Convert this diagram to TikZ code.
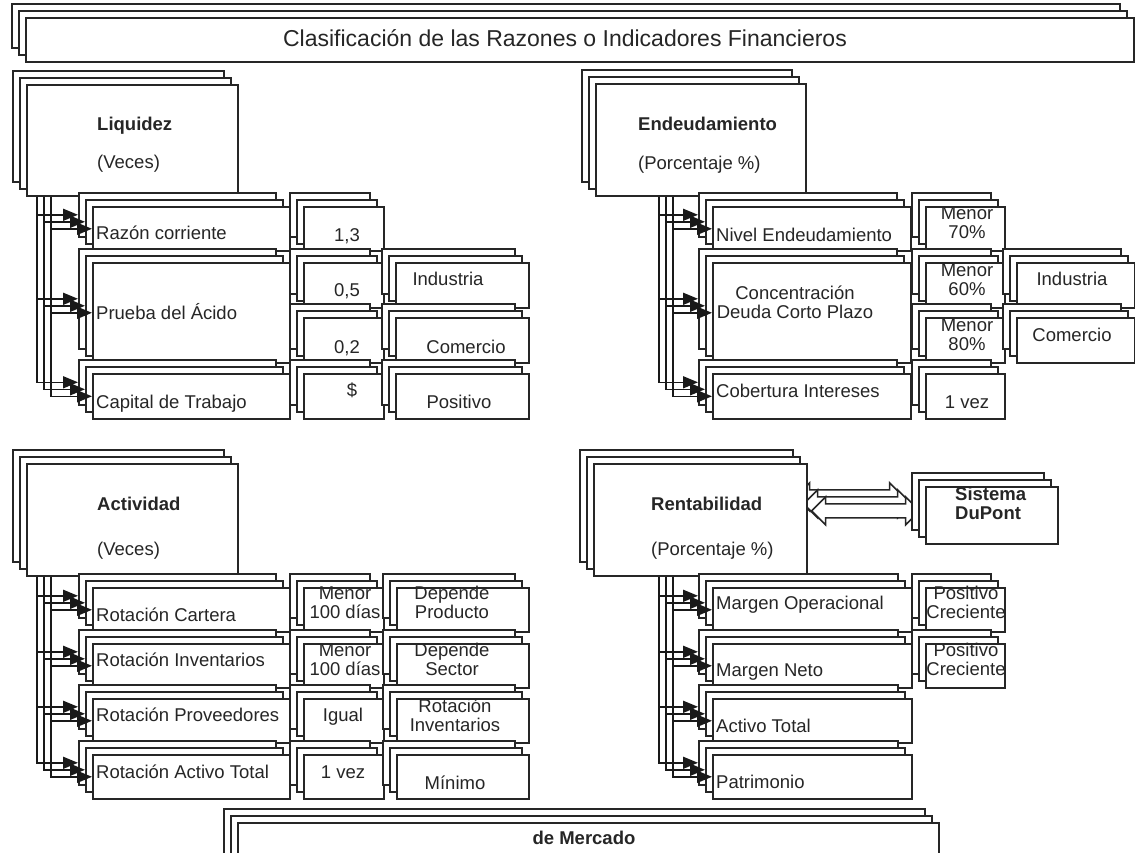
\documentclass[tikz,border=0pt]{standalone}
\usepackage{fontspec}
\setmainfont{Liberation Sans}
\usetikzlibrary{arrows.meta, positioning, calc, shadows, backgrounds}

\tikzset{
  stackbox/.style={draw=black!85, fill=white, line width=1.6pt, inner sep=0pt, anchor=north west,
    general shadow={shadow xshift=-14pt, shadow yshift=14pt, draw=black!85, fill=white, line width=1.6pt},
    general shadow={shadow xshift=-7pt, shadow yshift=7pt, draw=black!85, fill=white, line width=1.6pt}},
  txt/.style={font=\fontsize{18.5}{19.5}\selectfont, text=black!85, inner sep=0pt,
    text height=13pt, text depth=0pt},
  boldtxt/.style={txt, font=\fontsize{18.5}{19.5}\selectfont\bfseries},
  link/.style={draw=black!90, line width=1.6pt, -{Triangle[length=15pt, width=12pt]}},
  stub/.style={draw=black!85, line width=1.6pt},
  hollow/.style={draw=black!85, fill=white, line width=1.6pt},
}
% box: name, x, y (top left of front sheet), width, height
\newcommand{\stk}[5]{\node[stackbox, minimum width=#4pt, minimum height=#5pt] (#1) at (#2,#3) {};}

\begin{document}
\begin{tikzpicture}[x=1pt, y=-1pt]
  \path[use as bounding box] (0,0) rectangle (1135,853);

  % title
  \stk{tit}{25}{17}{1108}{44}
  \node[txt, font=\fontsize{23}{25}\selectfont, text height=16pt] (t-tit) at (565,39)
    {Clasificación de las Razones o Indicadores Financieros};

  % Liquidez
  \stk{liq}{26}{84}{211}{111}
  \node[boldtxt, anchor=west] (t-liq) at (97,124) {Liquidez};
  \node[txt, anchor=west] (t-liqu) at (97,162) {(Veces)};
  \stk{rc}{92}{206}{197}{44}
  \stk{v13}{303}{206}{80}{44}
  \stk{pa}{92}{262}{197}{100}
  \stk{v05}{303}{262}{80}{45}
  \stk{v02}{303}{317}{80}{45}
  \stk{ind1}{395}{262}{133}{45}
  \stk{com1}{395}{317}{133}{45}
  \stk{ct}{92}{373}{197}{45}
  \stk{vs}{303}{373}{80}{45}
  \stk{pos1}{395}{373}{133}{45}
  \node[txt, anchor=west] (t-rc) at (96,233) {Razón corriente};
  \node[txt] (t-v13) at (347,235) {1,3};
  \node[txt, anchor=west] (t-pa) at (96,313) {Prueba del Ácido};
  \node[txt] (t-v05) at (347,290) {0,5};
  \node[txt] (t-v02) at (347,347) {0,2};
  \node[txt] (t-ind1) at (448,279) {Industria};
  \node[txt] (t-com1) at (466,347) {Comercio};
  \node[txt, anchor=west] (t-ct) at (96,402) {Capital de Trabajo};
  \node[txt] (t-vs) at (352,390) {\$};
  \node[txt] (t-pos1) at (459,402) {Positivo};

  % Endeudamiento
  \stk{end}{595}{83}{210}{112}
  \node[boldtxt, anchor=west] (t-end) at (638,124) {Endeudamiento};
  \node[txt, anchor=west] (t-endu) at (638,163) {(Porcentaje \%)};
  \stk{ne}{712}{206}{198}{44}
  \stk{m70}{925}{206}{79}{44}
  \stk{cd}{712}{262}{198}{100}
  \stk{m60}{925}{262}{79}{45}
  \stk{m80}{925}{317}{79}{45}
  \stk{ind2}{1016}{262}{118}{45}
  \stk{com2}{1016}{317}{118}{45}
  \stk{ci}{712}{373}{198}{45}
  \stk{v1a}{925}{373}{79}{45}
  \node[txt, anchor=west] (t-ne) at (716,235) {Nivel Endeudamiento};
  \node[txt, align=center] (t-m70) at (967,232) {Menor\\70\%};
  \node[txt, align=center] (t-cd) at (795,312) {Concentración\\Deuda Corto Plazo};
  \node[txt, align=center] (t-m60) at (967,289) {Menor\\60\%};
  \node[txt, align=center] (t-m80) at (967,344) {Menor\\80\%};
  \node[txt] (t-ind2) at (1072,279) {Industria};
  \node[txt] (t-com2) at (1072,335) {Comercio};
  \node[txt, anchor=west] (t-ci) at (716,391) {Cobertura Intereses};
  \node[txt] (t-v1a) at (967,402) {1 vez};

  % Actividad
  \stk{act}{26}{463}{211}{112}
  \node[boldtxt, anchor=west] (t-act) at (97,504) {Actividad};
  \node[txt, anchor=west] (t-actu) at (97,549) {(Veces)};
  \stk{rca}{92}{587}{197}{44}
  \stk{m100a}{303}{587}{80}{44}
  \stk{dp}{396}{587}{132}{44}
  \stk{ri}{92}{643}{197}{44}
  \stk{m100b}{303}{643}{80}{44}
  \stk{ds}{396}{643}{132}{44}
  \stk{rp}{92}{698}{197}{44}
  \stk{vig}{303}{698}{80}{44}
  \stk{rinv}{396}{698}{132}{44}
  \stk{rat}{92}{754}{197}{44}
  \stk{v1b}{303}{754}{80}{44}
  \stk{mn}{396}{754}{132}{44}
  \node[txt, anchor=west] (t-rca) at (96,615) {Rotación Cartera};
  \node[txt, align=center] (t-m100a) at (345,612) {Menor\\100 días};
  \node[txt, align=center] (t-dp) at (452,612) {Depende\\Producto};
  \node[txt, anchor=west] (t-ri) at (96,660) {Rotación Inventarios};
  \node[txt, align=center] (t-m100b) at (345,669) {Menor\\100 días};
  \node[txt, align=center] (t-ds) at (452,669) {Depende\\Sector};
  \node[txt, anchor=west] (t-rp) at (96,715) {Rotación Proveedores};
  \node[txt] (t-vig) at (343,715) {Igual};
  \node[txt, align=center] (t-rinv) at (455,725) {Rotación\\Inventarios};
  \node[txt, anchor=west] (t-rat) at (96,772) {Rotación Activo Total};
  \node[txt] (t-v1b) at (343,772) {1 vez};
  \node[txt] (t-mn) at (455,783) {Mínimo};

  % Rentabilidad
  \stk{ren}{593}{463}{213}{112}
  \node[boldtxt, anchor=west] (t-ren) at (651,504) {Rentabilidad};
  \node[txt, anchor=west] (t-renu) at (651,549) {(Porcentaje \%)};
  \stk{dup}{925}{486}{132}{57}
  \node[boldtxt, align=left, anchor=west] (t-dup) at (955,513) {Sistema\\DuPont};
  \stk{mo}{712}{587}{199}{44}
  \stk{pc1}{925}{587}{79}{44}
  \stk{mne}{712}{643}{199}{44}
  \stk{pc2}{925}{643}{79}{44}
  \stk{atl}{712}{698}{199}{44}
  \stk{pat}{712}{754}{199}{44}
  \node[txt, anchor=west] (t-mo) at (716,603) {Margen Operacional};
  \node[txt, align=center] (t-pc1) at (966,612) {Positivo\\Creciente};
  \node[txt, anchor=west] (t-mne) at (716,670) {Margen Neto};
  \node[txt, align=center] (t-pc2) at (966,669) {Positivo\\Creciente};
  \node[txt, anchor=west] (t-atl) at (716,726) {Activo Total};
  \node[txt, anchor=west] (t-pat) at (716,782) {Patrimonio};

  % de Mercado
  \stk{mer}{237}{822}{701}{60}
  \node[boldtxt] (t-mer) at (584,838) {de Mercado};

  % connectors, three sheets each
  \coordinate (busL) at (51,0);
  \coordinate (busR) at (673,0);
  \coordinate (dblL) at ($(ren.east)+(4,-9)$);
  \foreach \k in {2,1,0}{
    \foreach \c in {rc,pa,ct}
      \draw[link] ($(liq.south -| busL)+(-7*\k,0)$) |- ($(\c.west)+(-7*\k,-7*\k)$);
    \foreach \c in {ne,cd,ci}
      \draw[link] ($(end.south -| busR)+(-7*\k,0)$) |- ($(\c.west)+(-7*\k,-7*\k)$);
    \foreach \c in {rca,ri,rp,rat}
      \draw[link] ($(act.south -| busL)+(-7*\k,0)$) |- ($(\c.west)+(-7*\k,-7*\k)$);
    \foreach \c in {mo,mne,atl,pat}
      \draw[link] ($(ren.south -| busR)+(-7*\k,0)$) |- ($(\c.west)+(-7*\k,-7*\k)$);
  }
  \begin{scope}[on background layer]
    \foreach \k in {2,1,0}{
      \begin{scope}[transform canvas={shift={(-7*\k,-7*\k)}}]
        \foreach \a/\b in {rc/v13,pa/v05,pa/v02,ct/vs,v05/ind1,v02/com1,vs/pos1,
                           ne/m70,cd/m60,cd/m80,ci/v1a,m60/ind2,m80/com2,
                           rca/m100a,ri/m100b,rp/vig,rat/v1b,m100a/dp,m100b/ds,vig/rinv,v1b/mn,
                           mo/pc1,mne/pc2}
          \draw[stub] (\b.west -| \a.east) -- (\b.west);
      \end{scope}
      \draw[hollow, shift={($(dblL)+(-8*\k,-7*\k)$)}] (0,0) -- (14,-14) -- (14,-7) -- (94,-7)
        -- (94,-14) -- (108,0) -- (94,14) -- (94,7) -- (14,7) -- (14,14) -- cycle;
    }
  \end{scope}
\end{tikzpicture}
\end{document}
